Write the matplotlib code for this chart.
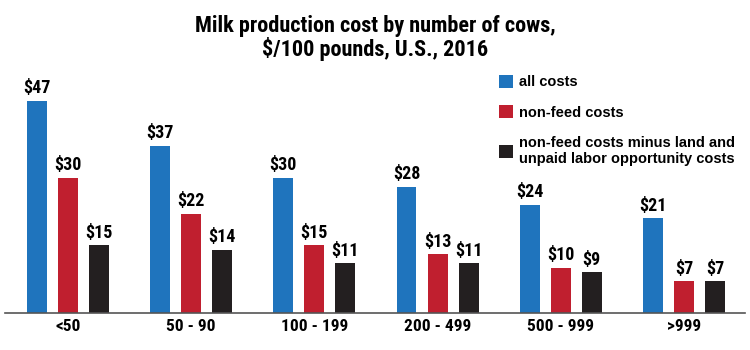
import matplotlib
matplotlib.use("Agg")
import matplotlib.pyplot as plt
import numpy as np

herds = ["<50", "50 - 90", "100 - 199", "200 - 499", "500 - 999", ">999"]
all_costs = [47, 37, 30, 28, 24, 21]
nonfeed_costs = [30, 22, 15, 13, 10, 7]
nonfeed_minus = [15, 14, 11, 11, 9, 7]

series = [
    ("all costs", all_costs, "#1f74bd"),
    ("non-feed costs", nonfeed_costs, "#c01f2f"),
    ("non-feed costs minus land and\nunpaid labor opportunity costs", nonfeed_minus, "#231f20"),
]

cond = ["Roboto Condensed", "DejaVu Sans"]

fig = plt.figure(figsize=(7.5, 3.5), dpi=100)
ax = fig.add_axes([5 / 750, 37 / 350, 740 / 750, 273 / 350])

x = np.arange(len(herds))
w = 0.162
step = 0.252
for i, (name, vals, col) in enumerate(series):
    pos = x + (i - 1) * step
    ax.bar(pos, vals, width=w, color=col, label=name)
    for p, v in zip(pos, vals):
        ax.text(p, v + 0.8, f"${v}", ha="center", va="bottom",
                fontsize=13, fontweight="bold", family=cond)

ax.set_xlim(-0.51, 5.495)
ax.set_ylim(0, 60.5)
ax.set_xticks(x)
ax.set_xticklabels(herds, fontsize=12.5, fontweight="bold", family=cond)
ax.tick_params(axis="x", length=0, pad=4)
ax.set_yticks([])
for s in ["top", "left", "right"]:
    ax.spines[s].set_visible(False)
ax.spines["bottom"].set_color("#555555")
ax.spines["bottom"].set_linewidth(1.2)

fig.text(0.5, 1 - 15 / 350, "Milk production cost by number of cows,\n$/100 pounds, U.S., 2016",
         ha="center", va="top", fontsize=16, fontweight="bold", family=cond,
         linespacing=1.02)

ax.legend(loc="upper left", bbox_to_anchor=(487 / 750, 1 - 63 / 350),
          bbox_transform=fig.transFigure, frameon=False,
          handlelength=1.0, handleheight=1.0, handletextpad=0.4,
          labelspacing=1.1, borderpad=0.3,
          prop={"family": ["Liberation Sans", "DejaVu Sans"], "weight": "bold", "size": 10.5})

fig.savefig("out.png", dpi=100)
